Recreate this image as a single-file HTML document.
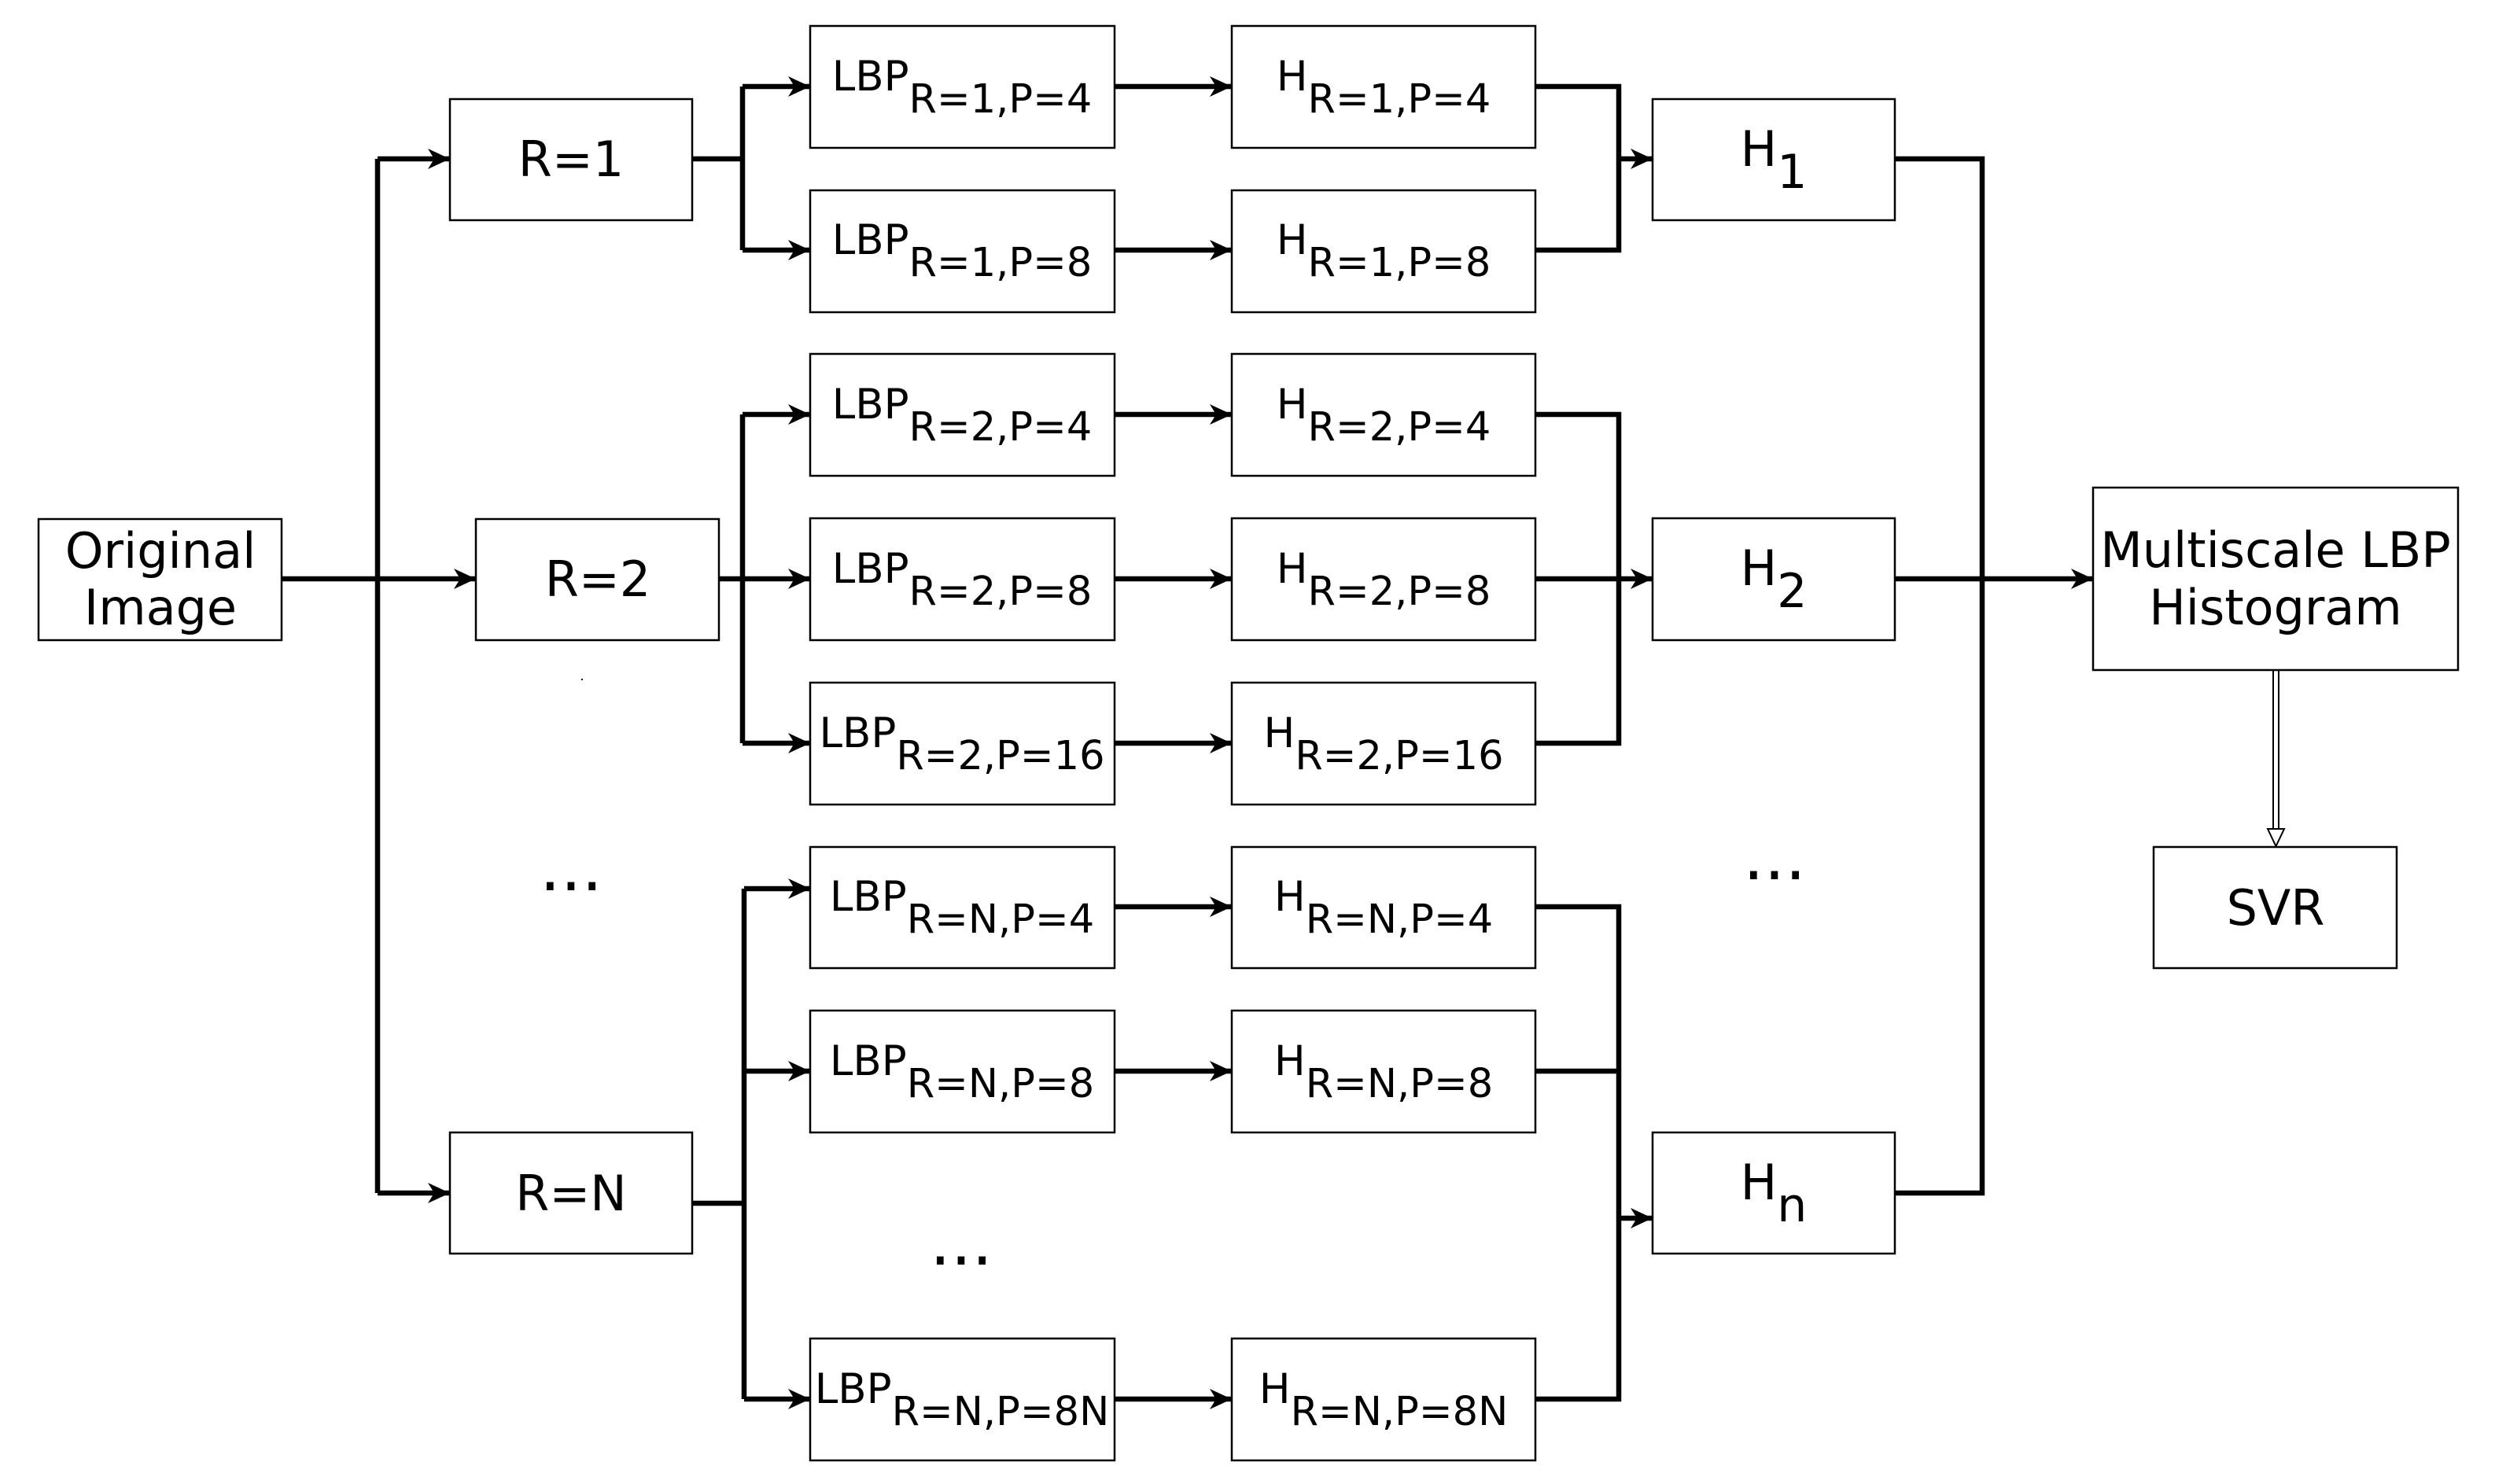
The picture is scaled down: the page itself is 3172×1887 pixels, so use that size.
<!DOCTYPE html>
<html><head><meta charset="utf-8"><style>
html,body{margin:0;padding:0;background:#fff}
svg{display:block}
text{font-family:"DejaVu Sans","Liberation Sans",sans-serif;fill:#000}
</style></head><body>
<svg width="3172" height="1887" viewBox="0 0 3172 1887" xmlns="http://www.w3.org/2000/svg">
<defs>
<marker id="a" markerUnits="userSpaceOnUse" markerWidth="34" markerHeight="30" refX="30" refY="15" orient="auto">
<path d="M30,15 L2,2 L10,15 L2,28 Z" fill="#000"/>
</marker>
</defs>
<g fill="#fff" stroke="#000" stroke-width="2.5">
<rect x="49" y="660" width="309" height="154"/>
<rect x="572" y="126" width="308" height="154"/>
<rect x="605" y="660" width="309" height="154"/>
<rect x="572" y="1440" width="308" height="154"/>
<rect x="1030" y="33" width="387" height="155"/>
<rect x="1030" y="242" width="387" height="155"/>
<rect x="1030" y="450" width="387" height="155"/>
<rect x="1030" y="659" width="387" height="155"/>
<rect x="1030" y="868" width="387" height="155"/>
<rect x="1030" y="1077" width="387" height="154"/>
<rect x="1030" y="1285" width="387" height="155"/>
<rect x="1030" y="1702" width="387" height="155"/>
<rect x="1566" y="33" width="386" height="155"/>
<rect x="1566" y="242" width="386" height="155"/>
<rect x="1566" y="450" width="386" height="155"/>
<rect x="1566" y="659" width="386" height="155"/>
<rect x="1566" y="868" width="386" height="155"/>
<rect x="1566" y="1077" width="386" height="154"/>
<rect x="1566" y="1285" width="386" height="155"/>
<rect x="1566" y="1702" width="386" height="155"/>
<rect x="2101" y="126" width="308" height="154"/>
<rect x="2101" y="659" width="308" height="155"/>
<rect x="2101" y="1440" width="308" height="154"/>
<rect x="2661" y="620" width="464" height="232"/>
<rect x="2738" y="1077" width="309" height="154"/>
</g>
<g fill="none" stroke="#000" stroke-width="6.5">
<path d="M358,736 H480"/>
<path d="M480,202 V1517"/>
<path d="M480,202 H572" marker-end="url(#a)"/>
<path d="M480,736 H605" marker-end="url(#a)"/>
<path d="M480,1517 H572" marker-end="url(#a)"/>
<path d="M880,202 H944"/>
<path d="M944,110 V318"/>
<path d="M944,110 H1030" marker-end="url(#a)"/>
<path d="M944,318 H1030" marker-end="url(#a)"/>
<path d="M914,736 H944"/>
<path d="M944,527 V945"/>
<path d="M944,527 H1030" marker-end="url(#a)"/>
<path d="M944,736 H1030" marker-end="url(#a)"/>
<path d="M944,945 H1030" marker-end="url(#a)"/>
<path d="M880,1530 H946"/>
<path d="M946,1130 V1779"/>
<path d="M946,1130 H1030" marker-end="url(#a)"/>
<path d="M946,1362 H1030" marker-end="url(#a)"/>
<path d="M946,1779 H1030" marker-end="url(#a)"/>
<path d="M1417,110 H1566" marker-end="url(#a)"/>
<path d="M1417,318 H1566" marker-end="url(#a)"/>
<path d="M1417,527 H1566" marker-end="url(#a)"/>
<path d="M1417,736 H1566" marker-end="url(#a)"/>
<path d="M1417,945 H1566" marker-end="url(#a)"/>
<path d="M1417,1153 H1566" marker-end="url(#a)"/>
<path d="M1417,1362 H1566" marker-end="url(#a)"/>
<path d="M1417,1779 H1566" marker-end="url(#a)"/>
<path d="M1952,110 H2058 V318 H1952"/>
<path d="M2058,202 H2101" marker-end="url(#a)"/>
<path d="M1952,527 H2058 V945 H1952"/>
<path d="M1952,736 H2101" marker-end="url(#a)"/>
<path d="M1952,1153 H2058 V1779 H1952"/>
<path d="M1952,1362 H2058"/>
<path d="M2058,1549 H2101" marker-end="url(#a)"/>
<path d="M2409,202 H2520 V1517 H2409"/>
<path d="M2409,736 H2661" marker-end="url(#a)"/>
</g>
<g fill="none" stroke="#000" stroke-width="2">
<path d="M2890,852 V1058 M2897,852 V1058"/>
<path d="M2883,1054 L2893.5,1076 L2904,1054 Z" fill="#fff"/>
</g>
<rect x="739" y="863" width="2" height="2" fill="#000"/>
<g font-size="62" text-anchor="middle">
<text x="204" y="722">Original</text>
<text x="204" y="794">Image</text>
<text x="726" y="224">R=1</text>
<text x="760" y="758">R=2</text>
<text x="726" y="1539">R=N</text>
<text x="2893" y="721">Multiscale LBP</text>
<text x="2893" y="794">Histogram</text>
<text x="2893" y="1176">SVR</text>
<text x="2255" y="211">H<tspan font-size="60" dy="28">1</tspan></text>
<text x="2255" y="744">H<tspan font-size="60" dy="28">2</tspan></text>
<text x="2255" y="1525">H<tspan font-size="60" dy="28">n</tspan></text>
</g>
<g font-size="84" text-anchor="middle">
<text x="726" y="1132">...</text>
<text x="1222" y="1608">...</text>
<text x="2256" y="1118">...</text>
</g>
<g font-size="53" text-anchor="middle">
<text x="1223" y="115">LBP<tspan font-size="51" dy="28">R=1,P=4</tspan></text>
<text x="1223" y="323">LBP<tspan font-size="51" dy="28">R=1,P=8</tspan></text>
<text x="1223" y="532">LBP<tspan font-size="51" dy="28">R=2,P=4</tspan></text>
<text x="1223" y="741">LBP<tspan font-size="51" dy="28">R=2,P=8</tspan></text>
<text x="1223" y="950">LBP<tspan font-size="51" dy="28">R=2,P=16</tspan></text>
<text x="1223" y="1158">LBP<tspan font-size="51" dy="28">R=N,P=4</tspan></text>
<text x="1223" y="1367">LBP<tspan font-size="51" dy="28">R=N,P=8</tspan></text>
<text x="1223" y="1784">LBP<tspan font-size="51" dy="28">R=N,P=8N</tspan></text>
<text x="1759" y="115">H<tspan font-size="51" dy="28">R=1,P=4</tspan></text>
<text x="1759" y="323">H<tspan font-size="51" dy="28">R=1,P=8</tspan></text>
<text x="1759" y="532">H<tspan font-size="51" dy="28">R=2,P=4</tspan></text>
<text x="1759" y="741">H<tspan font-size="51" dy="28">R=2,P=8</tspan></text>
<text x="1759" y="950">H<tspan font-size="51" dy="28">R=2,P=16</tspan></text>
<text x="1759" y="1158">H<tspan font-size="51" dy="28">R=N,P=4</tspan></text>
<text x="1759" y="1367">H<tspan font-size="51" dy="28">R=N,P=8</tspan></text>
<text x="1759" y="1784">H<tspan font-size="51" dy="28">R=N,P=8N</tspan></text>
</g>
</svg>
</body></html>
